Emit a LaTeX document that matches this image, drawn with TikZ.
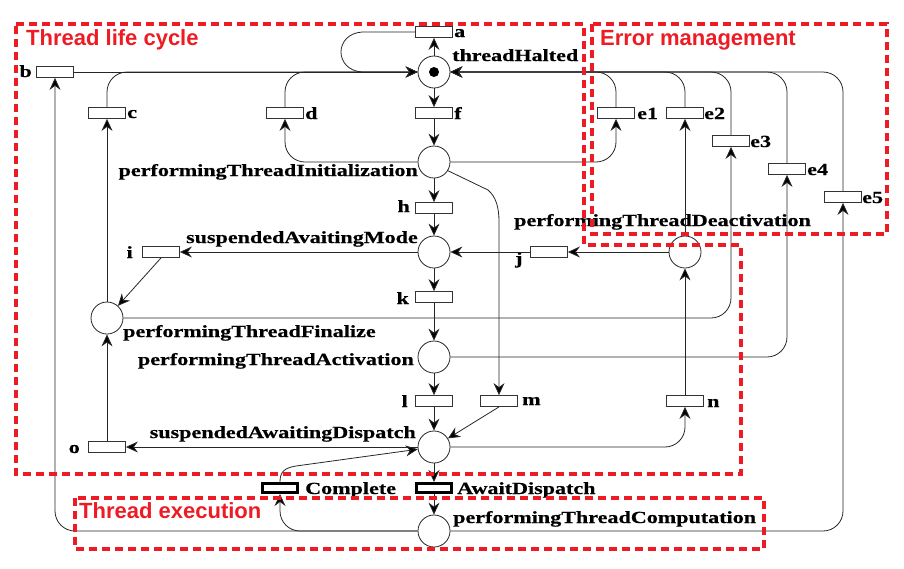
\documentclass[tikz,border=0pt]{standalone}
\usepackage{fontspec}
\newfontfamily\lblfont[FakeStretch=1.3,FakeBold=0.6]{Liberation Serif}
\newfontfamily\grpfont{Liberation Sans}
\usetikzlibrary{arrows.meta}
\definecolor{grpred}{RGB}{237,28,36}
\begin{document}
\begin{tikzpicture}[x=1pt,y=-1pt,
  every node/.style={inner sep=0pt},
  lbl/.style={font={\lblfont\bfseries\fontsize{17}{20}\selectfont}},
  grp/.style={font={\grpfont\bfseries\fontsize{22}{26}\selectfont}, text=grpred},
  place/.style={circle, draw=black!85, line width=0.8pt, minimum size=32pt},
  trans/.style={rectangle, draw=black!80, line width=0.8pt, minimum width=37pt, minimum height=11pt},
  ttrans/.style={rectangle, draw=black, line width=3pt, minimum width=35pt, minimum height=9pt},
  arc/.style={draw=black!85, line width=0.8pt, -{Stealth[length=12pt,width=11pt,inset=4pt,fill=black]}},
  region/.style={draw=grpred, line width=4pt, dash pattern=on 8pt off 5pt},
  rc/.style={rounded corners=20pt}
]
\useasboundingbox (0,0) rectangle (904,568);

% places
\node[place] (TH)  at (434,72)  {};
\fill (TH) circle[radius=5pt];
\node[place] (PTI) at (434,162) {};
\node[place] (SAM) at (434,252) {};
\node[place] (PTA) at (434,357) {};
\node[place] (SAD) at (434,447) {};
\node[place] (PTC) at (434,531) {};
\node[place] (PTF) at (107,318) {};
\node[place] (PTD) at (685,252) {};

% transitions
\node[trans] (a)  at (434,32)  {};
\node[trans] (b)  at (55,72)   {};
\node[trans] (c)  at (107,113) {};
\node[trans] (d)  at (285,113) {};
\node[trans] (f)  at (434,113) {};
\node[trans] (e1) at (616,113) {};
\node[trans] (e2) at (685,113) {};
\node[trans] (e3) at (731,141) {};
\node[trans] (e4) at (787,169) {};
\node[trans] (e5) at (843,197) {};
\node[trans] (h)  at (434,208) {};
\node[trans] (i)  at (161,252) {};
\node[trans] (j)  at (549,252) {};
\node[trans] (k)  at (434,297) {};
\node[trans] (l)  at (434,401) {};
\node[trans] (m)  at (499,401) {};
\node[trans] (n)  at (685,401) {};
\node[trans] (o)  at (107,447) {};
\node[ttrans] (Cp) at (280,488) {};
\node[ttrans] (AD) at (434,488) {};

% place labels
\node[lbl, anchor=base west] (THl)  at (452,61)  {threadHalted};
\node[lbl, anchor=base east] (PTIl) at (418,176) {performingThreadInitialization};
\node[lbl, anchor=base east] (SAMl) at (418,243) {suspendedAvaitingMode};
\node[lbl, anchor=base west] (PTFl) at (123,337) {performingThreadFinalize};
\node[lbl, anchor=base east] (PTAl) at (414,365) {performingThreadActivation};
\node[lbl, anchor=base west] (PTDl) at (514,226) {performingThreadDeactivation};
\node[lbl, anchor=base east] (SADl) at (416,438) {suspendedAwaitingDispatch};
\node[lbl, anchor=base west] (PTCl) at (453,523) {performingThreadComputation};
\node[lbl, anchor=base west] (Cpl)  at (305,494) {Complete};
\node[lbl, anchor=base west] (ADl)  at (457,494) {AwaitDispatch};

% transition labels
\node[lbl, anchor=base west] at (454,37)  {a};
\node[lbl, anchor=base east] at (32,77)   {b};
\node[lbl, anchor=base west] at (127,118) {c};
\node[lbl, anchor=base west] at (305,119) {d};
\node[lbl, anchor=base west] at (454,119) {f};
\node[lbl, anchor=base west] at (637,119) {e1};
\node[lbl, anchor=base west] at (704,119) {e2};
\node[lbl, anchor=base west] at (750,147) {e3};
\node[lbl, anchor=base west] at (807,175) {e4};
\node[lbl, anchor=base west] at (862,203) {e5};
\node[lbl, anchor=base east] at (410,212) {h};
\node[lbl, anchor=base east] at (133,258) {i};
\node[lbl, anchor=base west] at (515,264) {j};
\node[lbl, anchor=base east] at (409,304) {k};
\node[lbl, anchor=base east] at (408,407) {l};
\node[lbl, anchor=base west] at (522,405) {m};
\node[lbl, anchor=base west] at (707,407) {n};
\node[lbl, anchor=base east] at (80,453)  {o};

% arcs
\draw[arc] (TH) -- (a);
\draw[arc] (a.west) -- (362,32) .. controls (334,34) and (334,70) .. (362,72) -- (TH.west);
\draw[arc] (b.east) -- (TH.west);
\draw[arc, rc] (PTC.west) -| (b.south);
\draw[arc] (PTF) -- (c);
\draw[arc, rc] (c.north) |- (TH.west);
\draw[arc, rc] (PTI.west) -| (d.south);
\draw[arc, rc] (d.north) |- (TH.west);
\draw[arc] (TH) -- (f);
\draw[arc] (f) -- (PTI);
\draw[arc, rc] (PTI.east) -| (e1.south);
\draw[arc, rc] (e1.north) |- (TH.east);
\draw[arc, rc] (e2.north) |- (TH.east);
\draw[arc, rc] (e3.north) |- (TH.east);
\draw[arc, rc] (e4.north) |- (TH.east);
\draw[arc, rc] (e5.north) |- (TH.east);
\draw[arc] (PTD) -- (e2);
\draw[arc, rc] (PTF.east) -| (e3.south);
\draw[arc, rc] (PTA.east) -| (e4.south);
\draw[arc, rc] (PTC.east) -| (e5.south);
\draw[arc] (PTI) -- (h);
\draw[arc] (h) -- (SAM);
\draw[arc] (PTI.-32) -- (488,190) .. controls (496,197) and (499,207) .. (499,222) -- (m.north);
\draw[arc] (SAM) -- (i);
\draw[arc] (i.south) -- (PTF);
\draw[arc] (PTD) -- (j);
\draw[arc] (j) -- (SAM);
\draw[arc] (SAM) -- (k);
\draw[arc] (k) -- (PTA);
\draw[arc] (PTA) -- (l);
\draw[arc] (l) -- (SAD);
\draw[arc] (m.south) -- (SAD);
\draw[arc] (SAD) -- (o);
\draw[arc] (o) -- (PTF);
\draw[arc, rc] (SAD.east) -| (n.south);
\draw[arc] (n) -- (PTD);
\draw[arc] (SAD) -- (AD);
\draw[arc] (AD) -- (PTC);
\draw[arc, rc] (PTC.west) -| (Cp.south);
\draw[arc] (Cp.north) .. controls (280,472) and (284,468) .. (296,466) -- (SAD);

% regions
\draw[region] (16,24) -- (584,24) -- (584,245) -- (741,245) -- (741,474) -- (16,474) -- cycle;
\draw[region] (592,24) rectangle (887,234);
\draw[region] (75,498) rectangle (764,549);
\node[grp, anchor=base west] (g1) at (26,45)  {Thread life cycle};
\node[grp, anchor=base west] (g2) at (600,45) {Error management};
\node[grp, anchor=base west] (g3) at (79,518) {Thread execution};
\end{tikzpicture}
\end{document}
